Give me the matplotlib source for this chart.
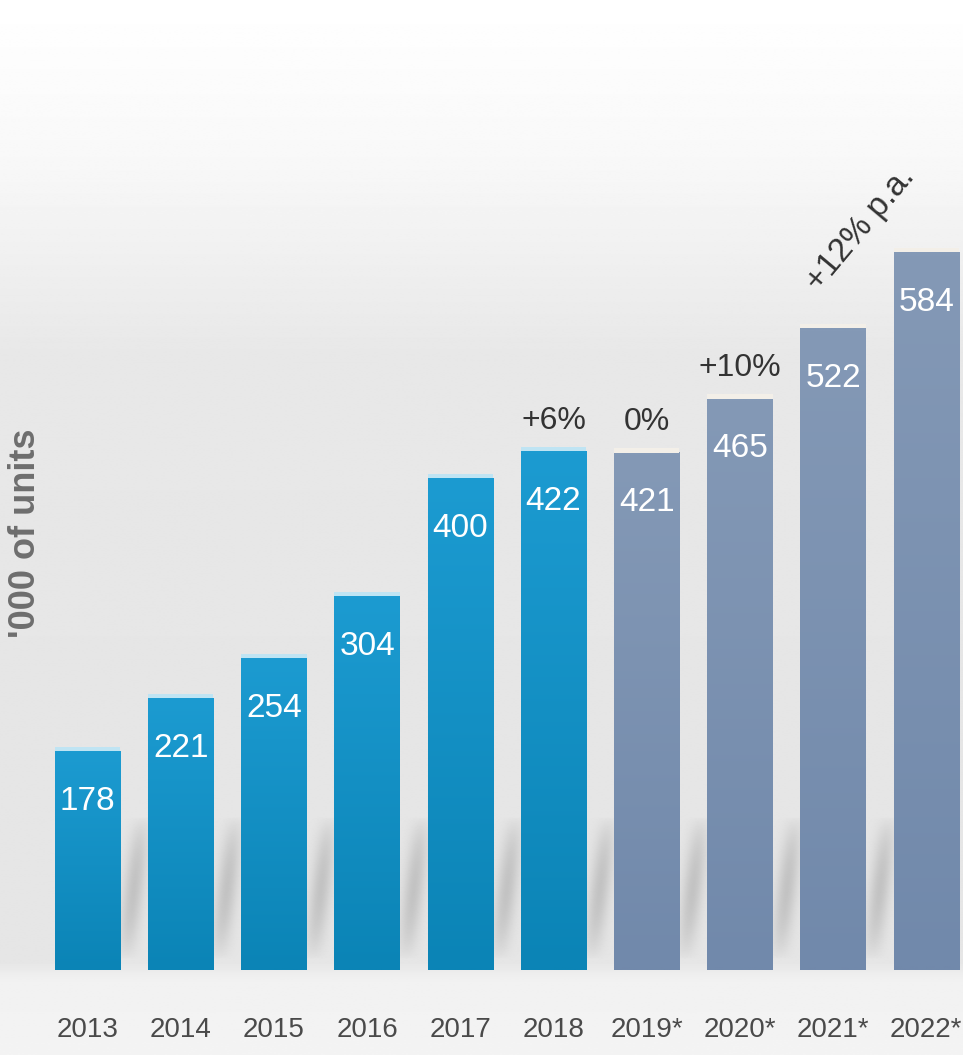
import matplotlib.pyplot as plt
import numpy as np
from matplotlib.colors import to_rgb

years = ['2013', '2014', '2015', '2016', '2017', '2018', '2019*', '2020*', '2021*', '2022*']
units = [178, 221, 254, 304, 400, 422, 421, 465, 522, 584]
is_forecast = [False] * 6 + [True] * 4
growth_labels = ['', '', '', '', '', '+6%', '0%', '+10%', '', '']
cagr_text = '+12% p.a.'
ylabel = "'000 of units"

font = ['Liberation Sans', 'DejaVu Sans']

XL = (-0.939, 9.394)
YL = (-69.2, 789.3)

fig = plt.figure(figsize=(9.63, 10.55), dpi=100)
ax = fig.add_axes([0, 0, 1, 1])
ax.set_xlim(*XL)
ax.set_ylim(*YL)
ax.axis('off')

# grey backdrop fading to white at the top, lighter strip under the baseline
stops = np.array([-69.2, -8, 6, 200, 504, 667, 789.3])
rows = np.array([0.955, 0.945, 0.9, 0.9, 0.91, 0.975, 1.0])
yy = np.linspace(*YL, 600)
shade = np.interp(yy, stops, rows)
bg = np.repeat(shade[:, None], 2, axis=1)
ax.imshow(bg, cmap='gray', vmin=0, vmax=1, extent=[*XL, *YL],
          origin='lower', aspect='auto', zorder=0, interpolation='bilinear')

width = 0.70
x = np.arange(len(years))
bars = ax.bar(x, units, width=width, color='none', zorder=3)

blue_top, blue_bot = to_rgb('#1c9bd1'), to_rgb('#0b84b6')
grey_top, grey_bot = to_rgb('#8499b6'), to_rgb('#7189ab')

# slanted soft shadows in the gaps between neighbouring bars
gap = 1 - width
u = np.linspace(0, 1, 80)[None, :]
v = np.linspace(0, 1, 80)[:, None]
centre = 0.2 + 0.6 * v
band = np.exp(-((u - centre) / 0.38) ** 2)
fade = np.sin(np.pi * v) ** 0.7
shadow = np.zeros((80, 80, 4))
shadow[..., :3] = 0.6
shadow[..., 3] = 0.45 * band * fade
for i in range(len(x) - 1):
    gx0 = x[i] + width / 2
    ax.imshow(shadow, extent=[gx0, gx0 + gap, 8, 125], origin='lower',
              aspect='auto', zorder=2, interpolation='bilinear')

for i, (b, fc) in enumerate(zip(bars, is_forecast)):
    x0, h = b.get_x(), b.get_height()
    top, bot = (grey_top, grey_bot) if fc else (blue_top, blue_bot)
    t = np.linspace(0, 1, 100)[:, None]
    grad = np.array(bot)[None, :] * (1 - t) + np.array(top)[None, :] * t
    ax.imshow(grad[:, None, :], extent=[x0, x0 + width, 0, h], origin='lower',
              aspect='auto', zorder=3, interpolation='bilinear')
    # thin highlight along the bar top
    hl = '#f3efe8' if fc else '#bfe4f3'
    ax.bar(x[i], 3.5, bottom=h, width=width, color=hl, zorder=3)

    # value inside the bar
    ax.text(x[i], h - 41, str(units[i]), ha='center', va='center', color='white',
            fontsize=24, family=font, zorder=5)
    # year below the baseline
    ax.text(x[i], -49, years[i], ha='center', va='center', color='#4a4a4a',
            fontsize=20, family=font, zorder=5)
    if growth_labels[i]:
        ax.text(x[i], h + 25, growth_labels[i], ha='center', va='center',
                color='#333333', fontsize=23, family=font, zorder=5)

ax.text(8.3, 603, cagr_text, ha='center', va='center', rotation=50,
        color='#333333', fontsize=24, family=font, zorder=5)

ax.text(-0.67, 355, ylabel, ha='center', va='center', rotation=90,
        color='#6e6e6e', fontsize=26, fontweight='bold', family=font, zorder=5)

fig.savefig('out.png', dpi=100)
